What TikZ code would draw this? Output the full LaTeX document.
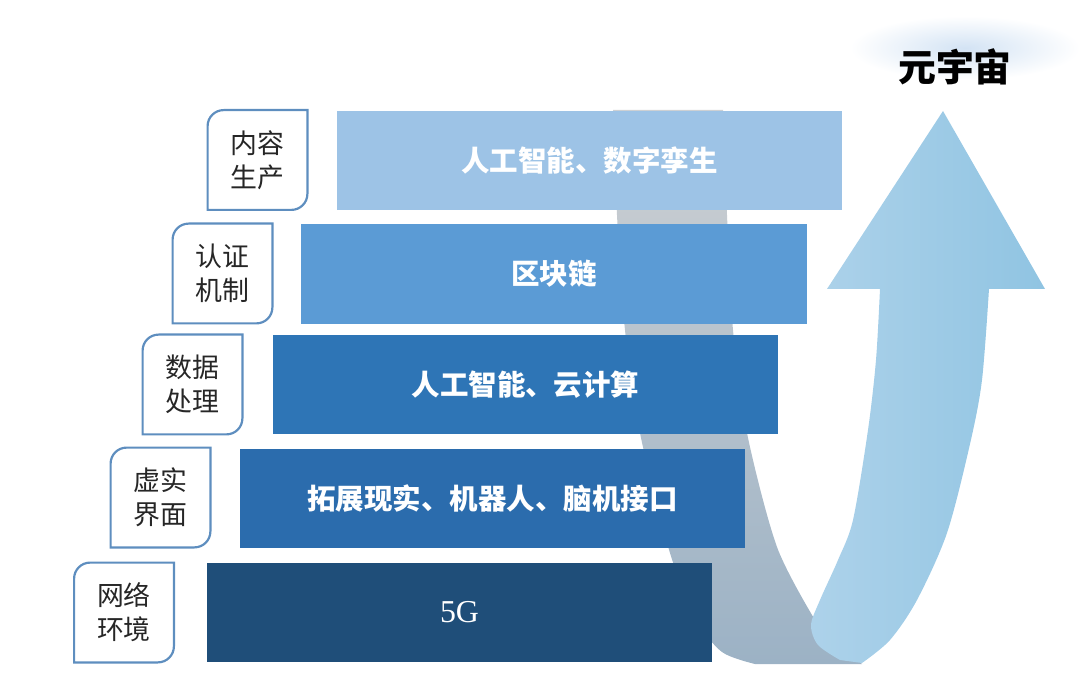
\documentclass[tikz,border=0pt]{standalone}
\usepackage{fontspec}
\setmainfont{Noto Sans CJK SC}
\newfontfamily\latinserif{Liberation Serif}
\definecolor{barA}{HTML}{9DC3E6}
\definecolor{barB}{HTML}{5B9BD5}
\definecolor{barC}{HTML}{2E75B6}
\definecolor{barD}{HTML}{2B6CAD}
\definecolor{barE}{HTML}{1F4E79}
\definecolor{labblue}{HTML}{5E8EBF}
\definecolor{backtop}{HTML}{CDD0D3}
\definecolor{backbot}{HTML}{9CB2C5}
\definecolor{frontl}{HTML}{ADD2EA}
\definecolor{frontr}{HTML}{90C4E2}
\definecolor{glow}{HTML}{D3E3F4}

\begin{document}
\begin{tikzpicture}[x=0.5bp,y=-0.5bp,
    bar/.style={minimum width=252.5bp, minimum height=49.5bp, inner sep=0pt, text=white, font=\fontsize{14.3}{17}\selectfont\bfseries},
    lab/.style={minimum width=49.5bp, minimum height=49.5bp, inner sep=0pt, align=center, text=black!85, font=\fontsize{13.5}{17}\selectfont},
    labline/.style={draw=labblue, line width=1.1bp}]
    \useasboundingbox (0,0) rectangle (1080,699);
    % glow and title
    \shade[inner color=glow, outer color=white] (965,48) ellipse [x radius=115, y radius=32];
    \node[font=\fontsize{19}{22}\selectfont\bfseries] (meta) at (955,67) {元宇宙};
    % back of the ribbon
    \shade[top color=backtop, bottom color=backbot] plot[smooth] coordinates {(613,110) (617,215) (625,330) (640,433) (670,553) (697,620) (722,652) (755,664)} -- (862,664) -- plot[smooth] coordinates {(815,620) (777,547) (747,433) (733,330) (727,215) (723,110)} -- cycle;
    % front of the ribbon with head
    \shade[left color=frontl, right color=frontr] (943,111) -- (1045,289) -- (989,289) -- plot[smooth] coordinates {(989,289) (982,380) (970,444) (947,533) (917,600) (890,640) (862,663)} -- plot[smooth] coordinates {(840,660) (818,645) (811,625) (820,600) (838,560) (853,520) (868,430) (876,360) (880,289)} -- (827,289) -- cycle;
    % layers
    \node[bar, fill=barA] (twin) at (589.5,160.5) {人工智能、数字孪生};
    \node[bar, fill=barB] (chain) at (554,274) {区块链};
    \node[bar, fill=barC] (cloud) at (525.5,384.5) {人工智能、云计算};
    \node[bar, fill=barD] (xr) at (492.5,498.5) {拓展现实、机器人、脑机接口};
    \node[bar, fill=barE] (net) at (459.5,612.5) {\latinserif\mdseries\fontsize{16}{18}\selectfont 5G};
    % labels
    \node[lab] (content) at (257.5,160) {内容\\生产};
    \node[lab] (auth) at (222.5,273.5) {认证\\机制};
    \node[lab] (data) at (192.5,384.5) {数据\\处理};
    \node[lab] (iface) at (160.5,497.5) {虚实\\界面};
    \node[lab] (env) at (124,612.5) {网络\\环境};
    \draw[labline] (content.south west) [rounded corners=8bp] -- (content.north west) [sharp corners] -- (content.north east) [rounded corners=8bp] -- (content.south east) [sharp corners] -- cycle;
    \draw[labline] (auth.south west) [rounded corners=8bp] -- (auth.north west) [sharp corners] -- (auth.north east) [rounded corners=8bp] -- (auth.south east) [sharp corners] -- cycle;
    \draw[labline] (data.south west) [rounded corners=8bp] -- (data.north west) [sharp corners] -- (data.north east) [rounded corners=8bp] -- (data.south east) [sharp corners] -- cycle;
    \draw[labline] (iface.south west) [rounded corners=8bp] -- (iface.north west) [sharp corners] -- (iface.north east) [rounded corners=8bp] -- (iface.south east) [sharp corners] -- cycle;
    \draw[labline] (env.south west) [rounded corners=8bp] -- (env.north west) [sharp corners] -- (env.north east) [rounded corners=8bp] -- (env.south east) [sharp corners] -- cycle;
\end{tikzpicture}
\end{document}
